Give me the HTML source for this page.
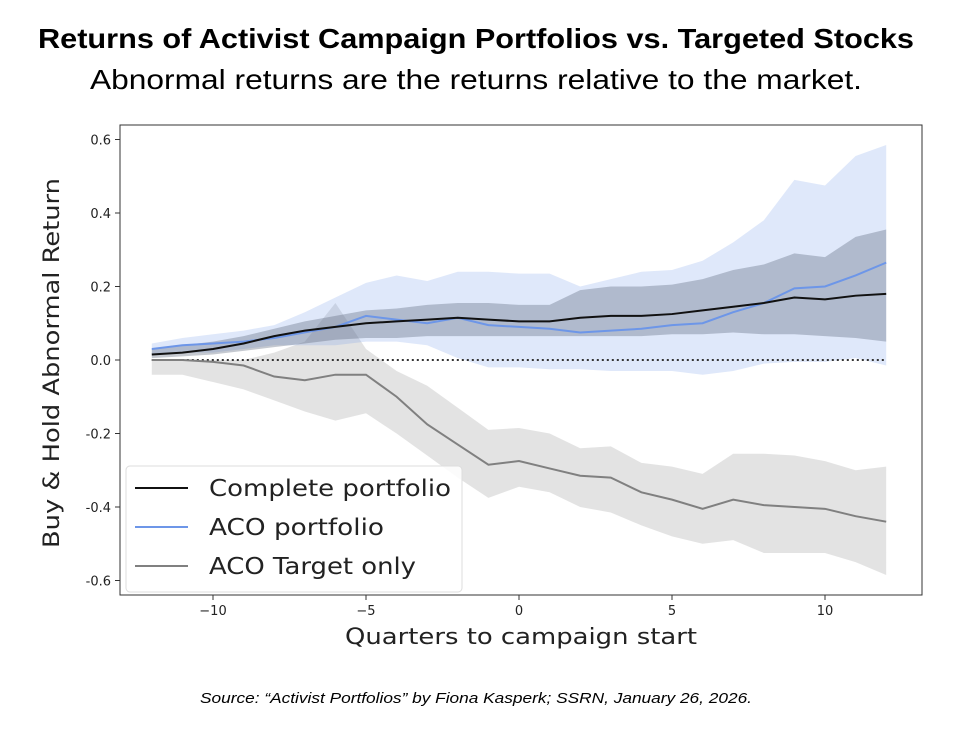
<!DOCTYPE html>
<html><head><meta charset="utf-8"><style>
body{margin:0;background:#fff;width:966px;height:736px;overflow:hidden;font-family:"Liberation Sans",sans-serif}
</style></head><body>
<svg width="966" height="736">
<text x="38" y="48" font-size="28" font-weight="bold" textLength="876" lengthAdjust="spacingAndGlyphs">Returns of Activist Campaign Portfolios vs. Targeted Stocks</text>
<text x="90" y="89" font-size="28" textLength="772" lengthAdjust="spacingAndGlyphs">Abnormal returns are the returns relative to the market.</text>
<g id="plot"></g>
<text x="200" y="703" font-size="15" font-style="italic" textLength="552" lengthAdjust="spacingAndGlyphs">Source: “Activist Portfolios” by Fiona Kasperk; SSRN, January 26, 2026.</text>
</svg>
<script>
const quarters=[-12,-11,-10,-9,-8,-7,-6,-5,-4,-3,-2,-1,0,1,2,3,4,5,6,7,8,9,10,11,12];
const completeMean=[0.015,0.02,0.03,0.045,0.065,0.08,0.09,0.1,0.105,0.11,0.115,0.11,0.105,0.105,0.115,0.12,0.12,0.125,0.135,0.145,0.155,0.17,0.165,0.175,0.18];
const completeLo=[0.005,0.01,0.015,0.025,0.035,0.045,0.055,0.06,0.06,0.065,0.065,0.065,0.065,0.065,0.065,0.065,0.065,0.07,0.07,0.075,0.07,0.07,0.065,0.06,0.05];
const completeHi=[0.03,0.04,0.05,0.065,0.085,0.105,0.12,0.135,0.14,0.15,0.155,0.155,0.15,0.15,0.19,0.2,0.2,0.205,0.22,0.245,0.26,0.29,0.28,0.335,0.355];
const acoMean=[0.03,0.04,0.045,0.05,0.06,0.075,0.09,0.12,0.11,0.1,0.115,0.095,0.09,0.085,0.075,0.08,0.085,0.095,0.1,0.13,0.155,0.195,0.2,0.23,0.265];
const acoLo=[0.015,0.02,0.02,0.03,0.04,0.04,0.04,0.05,0.05,0.04,0.005,-0.02,-0.02,-0.025,-0.025,-0.03,-0.03,-0.03,-0.04,-0.03,-0.01,-0.005,-0.005,0.005,-0.015];
const acoHi=[0.045,0.06,0.07,0.08,0.095,0.13,0.17,0.21,0.23,0.215,0.24,0.24,0.235,0.235,0.2,0.22,0.24,0.245,0.27,0.32,0.38,0.49,0.475,0.555,0.585];
const targetMean=[0,0,-0.005,-0.015,-0.045,-0.055,-0.04,-0.04,-0.1,-0.175,-0.23,-0.285,-0.275,-0.295,-0.315,-0.32,-0.36,-0.38,-0.405,-0.38,-0.395,-0.4,-0.405,-0.425,-0.44];
const targetLo=[-0.04,-0.04,-0.06,-0.08,-0.11,-0.14,-0.165,-0.145,-0.2,-0.26,-0.32,-0.375,-0.345,-0.36,-0.4,-0.415,-0.45,-0.48,-0.5,-0.49,-0.525,-0.525,-0.525,-0.55,-0.585];
const targetHi=[0,0,0,0,0.02,0.05,0.155,0.03,-0.03,-0.07,-0.13,-0.19,-0.185,-0.2,-0.24,-0.235,-0.28,-0.29,-0.31,-0.255,-0.255,-0.26,-0.275,-0.3,-0.29];
const yTicks=[0.6,0.4,0.2,0.0,-0.2,-0.4,-0.6];
const xTicks=[-10,-5,0,5,10];

const NS="http://www.w3.org/2000/svg";
const g=document.getElementById('plot');
const L=120,T=125,R=922,B=595;
const xs=q=>519+(q)*30.6;
const ys=v=>360-v*367.5;
function mk(tag,attrs,parent){const e=document.createElementNS(NS,tag);for(const k in attrs)e.setAttribute(k,attrs[k]);(parent||g).appendChild(e);return e;}
function band(lo,hi,fill,op,name){
  let d='M'+quarters.map((q,i)=>xs(q)+','+ys(hi[i])).join('L');
  d+='L'+quarters.slice().reverse().map((q,j)=>{const i=quarters.length-1-j;return xs(q)+','+ys(lo[i]);}).join('L')+'Z';
  const p=mk('path',{d:d,fill:fill,'fill-opacity':op});
  
  
}
function line(vals,color,name){
  const p=mk('polyline',{points:quarters.map((q,i)=>xs(q)+','+ys(vals[i])).join(' '),fill:'none',stroke:color,'stroke-width':2});
  
  
}
band(targetLo,targetHi,'#c8c8c8',0.5,'target-band');
band(acoLo,acoHi,'#6d96e8',0.22,'aco-band');
band(completeLo,completeHi,'#5a6478',0.35,'complete-band');
const zl=mk('line',{x1:xs(-12),x2:xs(12),y1:ys(0),y2:ys(0),stroke:'#333','stroke-width':2,'stroke-dasharray':'2,3'});


line(targetMean,'#808080','target-line');
line(acoMean,'#6d96e8','aco-line');
line(completeMean,'#111','complete-line');
const fr=mk('rect',{x:L,y:T,width:R-L,height:B-T,fill:'none',stroke:'#333','stroke-width':1});


yTicks.forEach(v=>{
  mk('line',{x1:L-5,x2:L,y1:ys(v),y2:ys(v),stroke:'#333'});
  const t=mk('text',{x:L-9,y:ys(v)+5,'text-anchor':'end','font-size':13,'font-family':'DejaVu Sans',fill:'#222'});
  t.textContent=v.toFixed(1);
  
  
});
xTicks.forEach(q=>{
  mk('line',{x1:xs(q),x2:xs(q),y1:B,y2:B+5,stroke:'#333'});
  const t=mk('text',{x:xs(q),y:B+20,'text-anchor':'middle','font-size':13,'font-family':'DejaVu Sans',fill:'#222'});
  t.textContent=q<0?'\u2212'+(-q):String(q);
  
  
});
const xt=mk('text',{x:345,y:644,'font-size':22,'font-family':'DejaVu Sans',fill:'#222',textLength:352,lengthAdjust:'spacingAndGlyphs'});
xt.textContent='Quarters to campaign start';


const yt=mk('text',{x:0,y:0,'font-size':22,'font-family':'DejaVu Sans',fill:'#222',transform:'translate(59,548) rotate(-90)',textLength:370,lengthAdjust:'spacingAndGlyphs'});
yt.textContent='Buy & Hold Abnormal Return';


const lg=mk('g',{});


mk('rect',{x:126,y:466,width:336,height:126,rx:4,fill:'#fff','fill-opacity':0.85,stroke:'#ddd'},lg);
[['Complete portfolio','#111',488,242],['ACO portfolio','#6d96e8',527,175],['ACO Target only','#808080',566,207]].forEach(([lab,c,y,w])=>{
  const e=mk('g',{},lg);
  
  
  mk('line',{x1:135,x2:188,y1:y,y2:y,stroke:c,'stroke-width':2},e);
  const t=mk('text',{x:209,y:y+8,'font-size':23,'font-family':'DejaVu Sans',fill:'#222',textLength:w,lengthAdjust:'spacingAndGlyphs'},e);
  t.textContent=lab;
});
</script>
</body></html>
